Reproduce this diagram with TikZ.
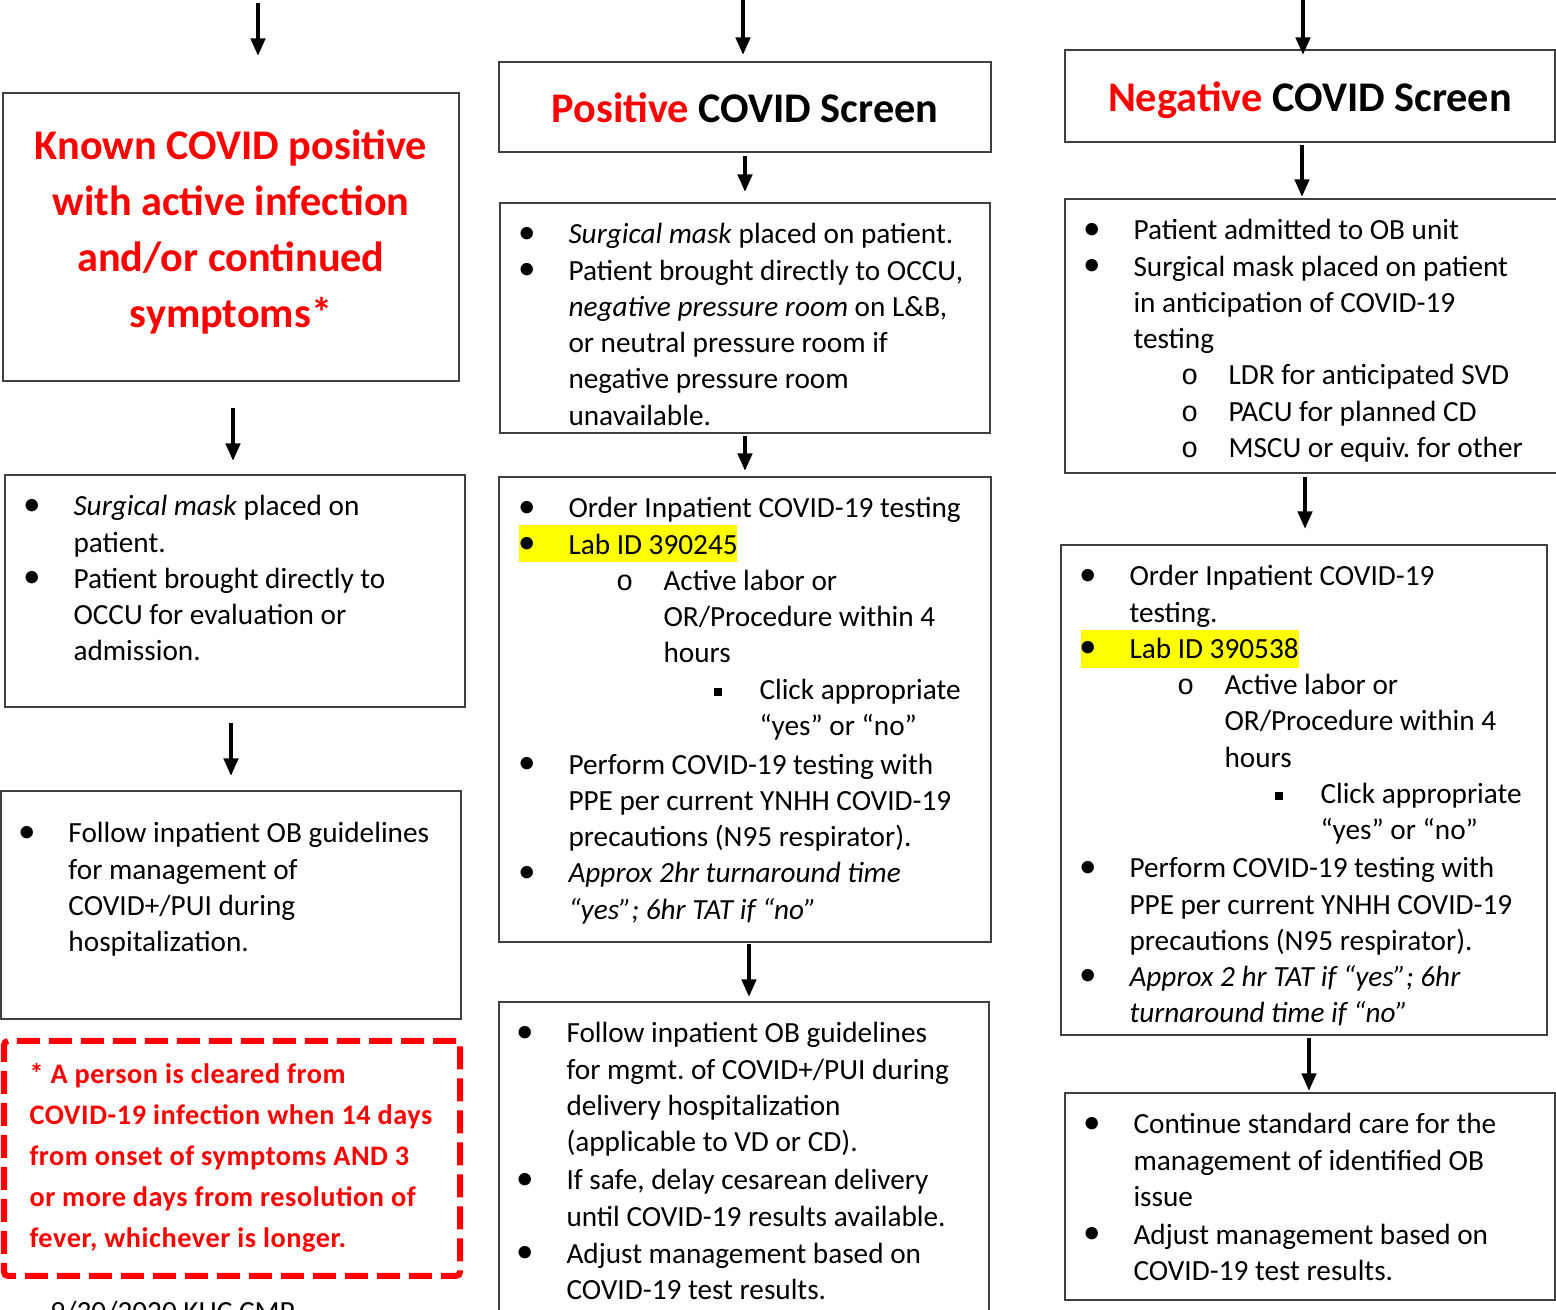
\documentclass[tikz,border=0pt]{standalone}
\usepackage{fontspec}
\setmainfont{Carlito}
\newfontfamily\markfont{Liberation Mono}
\newfontfamily\notefont[LetterSpace=2]{Carlito}
\usetikzlibrary{arrows.meta, calc, fit}
\definecolor{boxgray}{HTML}{404040}
\definecolor{labyellow}{HTML}{FFFF00}
\definecolor{alertred}{HTML}{FF0000}
\frenchspacing
% list markers, indents in pt (1px = 0.4pt)
\newcommand{\bdot}{\raisebox{.3pt}{\scalebox{1.2}{•}}}
\newcommand{\lone}{\strut\makebox[18.4pt][l]{\hspace{-1.8pt}\bdot}}
\newcommand{\lcont}{\strut\hspace*{18.4pt}}
\newcommand{\ltwo}{\strut\hspace*{37.4pt}\makebox[19pt][l]{\fontsize{11.5pt}{11.5pt}\markfont o}}
\newcommand{\ltwocont}{\strut\hspace*{56.4pt}}
\newcommand{\lthree}{\strut\hspace*{76.4pt}\makebox[18.4pt][l]{\rule[1.2pt]{3.2pt}{3.2pt}}}
\newcommand{\lthreecont}{\strut\hspace*{94.8pt}}

\begin{document}
\begin{tikzpicture}[x=0.4pt, y=-0.4pt,
	box/.style={draw=boxgray, line width=0.8pt, inner sep=0pt},
	notebox/.style={draw=alertred, line width=2.4pt, dash pattern=on 9.2pt off 3.6pt, rounded corners=1.6pt, inner sep=0pt},
	arr/.style={line width=1.6pt, -{Triangle[length=7pt,width=5.6pt]}},
	txt/.style={anchor=north west, inner sep=0pt, align=left, font=\fontsize{11.7pt}{14.5pt}\selectfont},
	titletext/.style={inner sep=0pt, align=center, font=\fontsize{16.9pt}{22.4pt}\selectfont\bfseries},
	notetext/.style={anchor=north west, inner sep=0pt, align=left, text=alertred, font=\fontsize{11.3pt}{16.4pt}\notefont\bfseries}]
	\useasboundingbox (0,0) rectangle (1556,1310);

	% boxes
	\node[box, fit={(3,93) (459,381)}] (k1) {};
	\node[box, fit={(5,475) (465,707)}] (k2) {};
	\node[box, fit={(1,791) (461,1019)}] (k3) {};
	\node[notebox, fit={(4,1041) (460,1276)}] (note) {};
	\node[box, fit={(499,62) (991,152)}] (p1) {};
	\node[box, fit={(500,203) (990,433)}] (p2) {};
	\node[box, fit={(499,477) (991,942)}] (p3) {};
	\node[box, fit={(499,1002) (989,1340)}] (p4) {};
	\node[box, fit={(1065,50) (1555,142)}] (n1) {};
	\node[box, fit={(1065,199) (1560,473)}] (n2) {};
	\node[box, fit={(1061,545) (1547,1035)}] (n3) {};
	\node[box, fit={(1065,1093) (1555,1300)}] (n4) {};

	% highlighted lab ids
	\fill[labyellow] (519,525) rectangle (737,562);
	\fill[labyellow] (1081,630) rectangle (1299,668);

	% texts
	\node[titletext, text=alertred, anchor=north] (k1t) at (231,120) {\strut Known COVID positive\\with active infection\\and/or continued\\symptoms*};
	\node[txt] (k2t) at (27,490) {\lone\textit{Surgical mask} placed on\\
		\lcont patient.\\
		\lone Patient brought directly to\\
		\lcont OCCU for evaluation or\\
		\lcont admission.};
	\node[txt] (k3t) at (22,817) {\lone Follow inpatient OB guidelines\\
		\lcont for management of\\
		\lcont COVID+/PUI during\\
		\lcont hospitalization.};
	\node[notetext] (notet) at (29,1054) {\strut * A person is cleared from\\
		COVID-19 infection when 14 days\\
		from onset of symptoms AND 3\\
		or more days from resolution of\\
		fever, whichever is longer.};
	\node[txt] (stamp) at (50,1296) {\strut 9/30/2020 KHC CMP};

	\node[titletext, anchor=base] (p1t) at (745,123) {\textcolor{alertred}{Positive} COVID Screen};
	\node[txt] (p2t) at (522,218) {\lone\textit{Surgical mask} placed on patient.\\
		\lone Patient brought directly to OCCU,\\
		\lcont\textit{negative pressure room} on L\&B,\\
		\lcont or neutral pressure room if\\
		\lcont negative pressure room\\
		\lcont unavailable.};
	\node[txt] (p3t) at (522,492) {\lone Order Inpatient COVID-19 testing\\
		\lone Lab ID 390245\\
		\ltwo Active labor or\\
		\ltwocont OR/Procedure within 4\\
		\ltwocont hours\\
		\lthree Click appropriate\\
		\lthreecont “yes” or “no”\\[1pt]
		\lone Perform COVID-19 testing with\\
		\lcont PPE per current YNHH COVID-19\\
		\lcont precautions (N95 respirator).\\
		\lone\textit{Approx 2hr turnaround time}\\
		\lcont\textit{“yes”; 6hr TAT if “no”}};
	\node[txt] (p4t) at (520,1017) {\lone Follow inpatient OB guidelines\\
		\lcont for mgmt. of COVID+/PUI during\\
		\lcont delivery hospitalization\\
		\lcont (applicable to VD or CD).\\[0.8pt]
		\lone If safe, delay cesarean delivery\\
		\lcont until COVID-19 results available.\\[0.4pt]
		\lone Adjust management based on\\
		\lcont COVID-19 test results.};

	\node[titletext, anchor=base] (n1t) at (1310,112) {\textcolor{alertred}{Negative} COVID Screen};
	\node[txt] (n2t) at (1087,214) {\lone Patient admitted to OB unit\\
		\lone Surgical mask placed on patient\\
		\lcont in anticipation of COVID-19\\
		\lcont testing\\
		\ltwo LDR for anticipated SVD\\
		\ltwo PACU for planned CD\\
		\ltwo MSCU or equiv. for other};
	\node[txt] (n3t) at (1083,560) {\lone Order Inpatient COVID-19\\
		\lcont testing.\\
		\lone Lab ID 390538\\
		\ltwo Active labor or\\
		\ltwocont OR/Procedure within 4\\
		\ltwocont hours\\
		\lthree Click appropriate\\
		\lthreecont “yes” or “no”\\[0.8pt]
		\lone Perform COVID-19 testing with\\
		\lcont PPE per current YNHH COVID-19\\
		\lcont precautions (N95 respirator).\\
		\lone\textit{Approx 2 hr TAT if “yes”; 6hr}\\
		\lcont\textit{turnaround time if “no”}};
	\node[txt] (n4t) at (1087,1108) {\lone Continue standard care for the\\
		\lcont management of identified OB\\
		\lcont issue\\[0.8pt]
		\lone Adjust management based on\\
		\lcont COVID-19 test results.};

	% arrows
	\coordinate (in1) at (258,3);
	\coordinate (in2) at (743,0);
	\coordinate (in3) at (1303,0);
	\draw[arr] (in1) -- ($(k1.north)+(27,-36)$);
	\draw[arr] ($(k1.south)+(2,26)$) -- ($(k2.north)+(-2,-13)$);
	\draw[arr] ($(k2.south)+(-4,15)$) -- ($(k3.north)+(0,-14)$);
	\draw[arr] (in2) -- ($(p1.north)+(-2,-6)$);
	\draw[arr] ($(p1.south)+(0,3)$) -- ($(p2.north)+(0,-10)$);
	\draw[arr] ($(p2.south)+(0,2)$) -- ($(p3.north)+(0,-5)$);
	\draw[arr] ($(p3.south)+(4,1)$) -- ($(p4.north)+(5,-4)$);
	\draw[arr] (in3) -- ($(n1.north)+(-7,6)$);
	\draw[arr] ($(n1.south)+(-8,2)$) -- ($(n2.north)+(-10.5,-1)$);
	\draw[arr] ($(n2.south)+(-7.5,3)$) -- ($(n3.north)+(1,-15)$);
	\draw[arr] ($(n3.south)+(5,2)$) -- ($(n4.north)+(-1,-1)$);
\end{tikzpicture}
\end{document}
